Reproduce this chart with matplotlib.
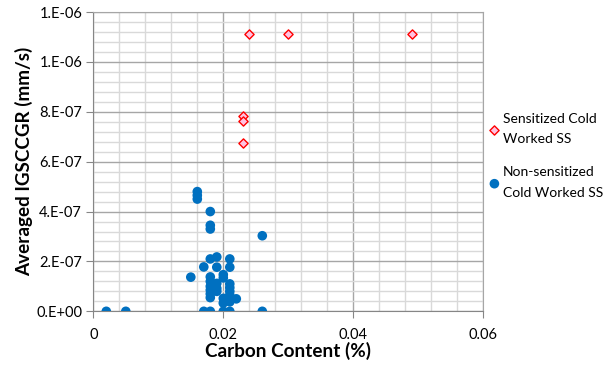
import matplotlib
matplotlib.use("Agg")
import matplotlib.pyplot as plt
from matplotlib.ticker import MultipleLocator, FuncFormatter
import numpy as np

plt.rcParams['font.family'] = ['Lato', 'DejaVu Sans']

# carbon content (%) and averaged crack growth rate (mm/s)
sens_carbon = [0.024, 0.030, 0.049, 0.023, 0.023, 0.023]
sens_rate = [1.11e-6, 1.11e-6, 1.11e-6, 7.85e-7, 7.65e-7, 6.75e-7]

nonsens_carbon = [0.002, 0.005,
                  0.016, 0.016, 0.016,
                  0.018, 0.018, 0.018, 0.026,
                  0.018, 0.019, 0.021,
                  0.017, 0.019, 0.021,
                  0.015, 0.018, 0.020, 0.020, 0.019,
                  0.018, 0.018, 0.018, 0.018, 0.018, 0.019, 0.019,
                  0.021, 0.021, 0.021, 0.021, 0.021, 0.021,
                  0.020, 0.020, 0.022,
                  0.017, 0.018, 0.020, 0.021, 0.026]
nonsens_rate = [0.0, 0.0,
                4.8e-7, 4.65e-7, 4.5e-7,
                4.0e-7, 3.45e-7, 3.3e-7, 3.03e-7,
                2.1e-7, 2.18e-7, 2.1e-7,
                1.78e-7, 1.77e-7, 1.77e-7,
                1.37e-7, 1.38e-7, 1.47e-7, 1.34e-7, 1.12e-7,
                1.2e-7, 1.0e-7, 0.85e-7, 0.7e-7, 0.55e-7, 0.92e-7, 0.8e-7,
                1.1e-7, 0.95e-7, 0.8e-7, 0.65e-7, 0.5e-7, 0.38e-7,
                0.52e-7, 0.33e-7, 0.5e-7,
                0.0, 0.0, 0.0, 0.0, 0.0]


def excel_sci(v, pos):
    # Excel style "0.E+00" labels
    if abs(v) < 1e-15:
        return "0.E+00"
    exp = int(np.floor(np.log10(abs(v)) + 1e-9))
    mant = round(v / 10 ** exp)
    return f"{mant:.0f}.E{exp:+03d}"


fig = plt.figure(figsize=(6.13, 3.74), dpi=100)
ax = fig.add_axes([0.1522, 0.1676, 0.6362, 0.8003])

ax.scatter(sens_carbon, sens_rate, marker='D', s=22, facecolor='#FFC3E1',
           edgecolor='#FF0000', linewidth=1.0, zorder=3,
           label='Sensitized Cold\nWorked SS')
ax.scatter(nonsens_carbon, nonsens_rate, marker='o', s=48, color='#0070C0',
           edgecolor='none', zorder=3,
           label='Non-sensitized\nCold Worked SS')

ax.set_xlim(0, 0.06)
ax.set_ylim(0, 1.2e-6)
ax.xaxis.set_major_locator(MultipleLocator(0.02))
ax.xaxis.set_minor_locator(MultipleLocator(0.004))
ax.yaxis.set_major_locator(MultipleLocator(2e-7))
ax.yaxis.set_minor_locator(MultipleLocator(4e-8))
ax.xaxis.set_major_formatter(FuncFormatter(lambda v, p: "0" if v == 0 else f"{v:g}"))
ax.yaxis.set_major_formatter(FuncFormatter(excel_sci))

ax.grid(which='major', color='#A6A6A6', linewidth=1.0, zorder=0)
ax.grid(which='minor', color='#D9D9D9', linewidth=1.0, zorder=0)
ax.set_axisbelow(True)

for side in ['left', 'bottom']:
    ax.spines[side].set_color('#868686')
for side in ['top', 'right']:
    ax.spines[side].set_color('#A6A6A6')

ax.tick_params(which='major', direction='out', length=5, color='#868686',
               labelsize=10.5, labelcolor='#000000')
ax.tick_params(which='minor', length=0)
ax.tick_params(axis='x', pad=7)
ax.tick_params(axis='y', pad=3)

ax.set_xlabel('Carbon Content (%)', fontsize=13.6, fontweight='bold', labelpad=0)
ax.set_ylabel('Averaged IGSCCGR (mm/s)', fontsize=13.6, fontweight='bold', labelpad=2)

leg = ax.legend(loc='center left', bbox_to_anchor=(1.0, 0.52), frameon=False,
                fontsize=10, handletextpad=0.1, handlelength=1.0,
                labelspacing=1.5, borderaxespad=0.1, borderpad=0.2)
for t in leg.get_texts():
    t.set_linespacing(1.85)

fig.savefig('out.png', dpi=100)
